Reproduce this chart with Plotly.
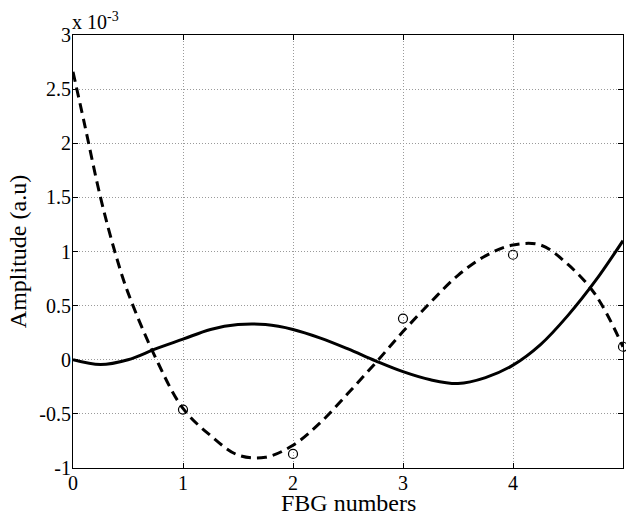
import plotly.graph_objects as go

# values in units of 1e-3
solid_x = [0, 0.25, 0.5, 0.75, 1.0, 1.25, 1.5, 1.75, 2.0, 2.25, 2.5, 2.75, 3.0, 3.25, 3.5, 3.75, 4.0, 4.25, 4.5, 4.75, 5.0]
solid_y = [0, -0.045, 0.0, 0.10, 0.19, 0.28, 0.325, 0.325, 0.28, 0.2, 0.1, -0.01, -0.11, -0.185, -0.22, -0.165, -0.05, 0.14, 0.41, 0.73, 1.10]

dashed_x = [0, 0.1, 0.25, 0.38, 0.5, 0.75, 1.0, 1.25, 1.5, 1.75, 2.0, 2.25, 2.5, 2.75, 3.0, 3.25, 3.5, 3.75, 4.0, 4.25, 4.5, 4.75, 5.0]
dashed_y = [2.66, 2.2, 1.5, 1.0, 0.62, 0.02, -0.45, -0.70, -0.88, -0.90, -0.79, -0.58, -0.31, -0.03, 0.26, 0.53, 0.78, 0.96, 1.06, 1.06, 0.88, 0.60, 0.12]

circle_x = [1, 2, 3, 4, 5]
circle_y = [-0.46, -0.87, 0.38, 0.97, 0.12]

x_ticks = [0, 1, 2, 3, 4, 5]
y_ticks = [-1, -0.5, 0, 0.5, 1, 1.5, 2, 2.5, 3]
y_ticktext = ["-1", "-0.5", "0", "0.5", "1", "1.5", "2", "2.5", "3"]

x_title = "FBG numbers"
y_title = "Amplitude (a.u)"

FONT = "Liberation Serif"

fig = go.Figure()
fig.add_trace(go.Scatter(x=solid_x, y=solid_y, mode="lines", line=dict(color="black", width=3, shape="spline"), showlegend=False))
fig.add_trace(go.Scatter(x=dashed_x, y=dashed_y, mode="lines", line=dict(color="black", width=3, dash="10px,6px", shape="spline"), showlegend=False))
fig.add_trace(go.Scatter(x=circle_x, y=circle_y, mode="markers", marker=dict(symbol="circle-open", size=9, color="black", line=dict(width=1.2, color="black")), showlegend=False, cliponaxis=False))

axis_common = dict(
    showline=True, linecolor="black", linewidth=1, mirror="ticks",
    ticks="inside", ticklen=5, tickcolor="black",
    showgrid=True, gridcolor="#9a9a9a", griddash="1px,2px", gridwidth=1,
    zeroline=False,
    tickfont=dict(family=FONT, size=20, color="black"),
)

fig.update_xaxes(range=[0, 5], tickvals=x_ticks, ticktext=[str(v) for v in x_ticks],
                 ticklabelstandoff=-3, **axis_common)
fig.update_yaxes(range=[-1, 3], tickvals=y_ticks, ticktext=y_ticktext,
                 ticklabelstandoff=-3,
                 title=dict(text=y_title, font=dict(family=FONT, size=24, color="black"), standoff=5),
                 **axis_common)

# x-axis title placed just under the tick labels, as in the reference
fig.add_annotation(xref="paper", yref="paper", x=0.5, y=0, xanchor="center", yanchor="top",
                   text=x_title, showarrow=False, yshift=-20,
                   font=dict(family=FONT, size=24, color="black"))

fig.add_annotation(xref="paper", yref="paper", x=0, y=1, xanchor="left", yanchor="bottom",
                   text="x 10<sup>-3</sup>", showarrow=False, xshift=-3,
                   font=dict(family=FONT, size=20, color="black"))

fig.update_layout(
    width=626, height=520,
    margin=dict(l=73, r=3, t=35, b=52),
    paper_bgcolor="white", plot_bgcolor="white",
    font=dict(family=FONT, color="black"),
)

fig.write_html("out.html", config={"displayModeBar": False},
               post_script="document.body.style.margin='0';document.body.style.overflow='hidden';")
